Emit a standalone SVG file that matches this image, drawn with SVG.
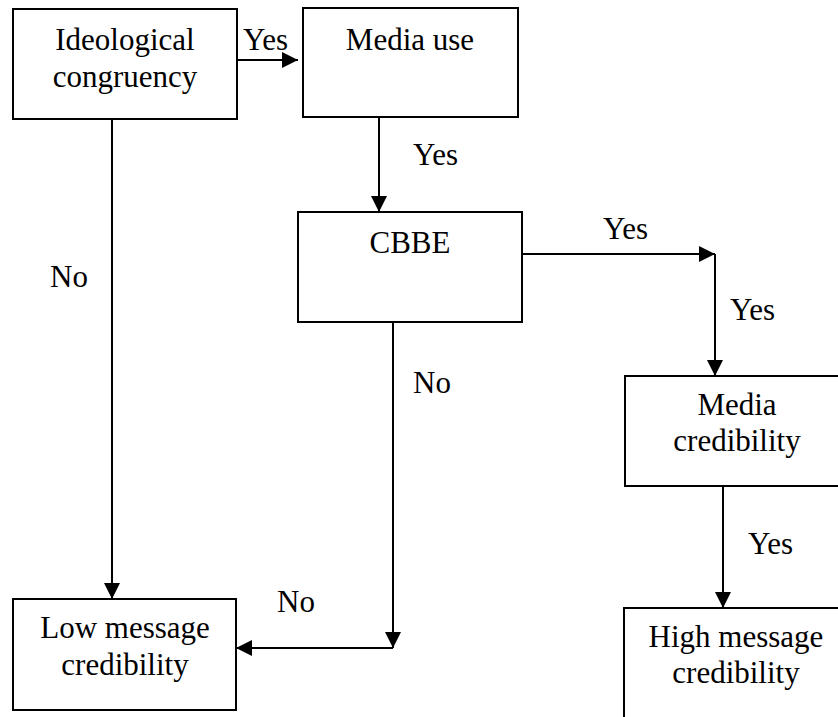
<svg xmlns="http://www.w3.org/2000/svg" width="838" height="717" viewBox="0 0 838 717">
<style>
.box{fill:#fff;stroke:#000;stroke-width:2}
text{font-family:'Liberation Serif','Times New Roman',Times,'Noto Serif','DejaVu Serif',Tinos,serif;font-size:31px;fill:#000}
.c{text-anchor:middle}
.ln{fill:none;stroke:#000;stroke-width:2}
</style>
<defs>
<marker id="ah" viewBox="0 0 16 16" refX="16" refY="8" markerWidth="16" markerHeight="16" markerUnits="userSpaceOnUse" orient="auto">
<path d="M0,0 L16,8 L0,16 Z" fill="#000"/>
</marker>
</defs>
<rect width="838" height="717" fill="#fff"/>
<g id="connectors">
<line class="ln" x1="237" y1="60" x2="298" y2="60" marker-end="url(#ah)"/>
<line class="ln" x1="379" y1="117" x2="379" y2="212" marker-end="url(#ah)"/>
<line class="ln" x1="522" y1="254" x2="715" y2="254" marker-end="url(#ah)"/>
<line class="ln" x1="715" y1="254" x2="715" y2="376" marker-end="url(#ah)"/>
<line class="ln" x1="723" y1="486" x2="723" y2="608" marker-end="url(#ah)"/>
<line class="ln" x1="112" y1="119" x2="112" y2="599" marker-end="url(#ah)"/>
<line class="ln" x1="393" y1="322" x2="393" y2="648" marker-end="url(#ah)"/>
<line class="ln" x1="393" y1="648" x2="236" y2="648" marker-end="url(#ah)"/>
<text x="243" y="50">Yes</text>
<text x="413" y="165">Yes</text>
<text x="603" y="239">Yes</text>
<text x="730" y="320">Yes</text>
<text x="748" y="554">Yes</text>
<text x="50" y="287">No</text>
<text x="413" y="393">No</text>
<text x="277" y="612">No</text>
</g>
<g id="ideological">
<rect class="box" x="13" y="9" width="224" height="110"/>
<text class="c" x="125" y="50">Ideological</text>
<text class="c" x="125" y="87">congruency</text>
</g>
<g id="media-use">
<rect class="box" x="303" y="8" width="215" height="109"/>
<text class="c" x="410" y="50">Media use</text>
</g>
<g id="cbbe">
<rect class="box" x="298" y="212" width="224" height="110"/>
<text class="c" x="410" y="253">CBBE</text>
</g>
<g id="media-credibility">
<rect class="box" x="625" y="376" width="224" height="110"/>
<text class="c" x="737" y="415">Media</text>
<text class="c" x="737" y="451">credibility</text>
</g>
<g id="low">
<rect class="box" x="13" y="599" width="223" height="111"/>
<text class="c" x="125" y="638">Low message</text>
<text class="c" x="125" y="675">credibility</text>
</g>
<g id="high">
<rect class="box" x="624" y="608" width="224" height="130"/>
<text class="c" x="736" y="647">High message</text>
<text class="c" x="736" y="683">credibility</text>
</g>
</svg>
